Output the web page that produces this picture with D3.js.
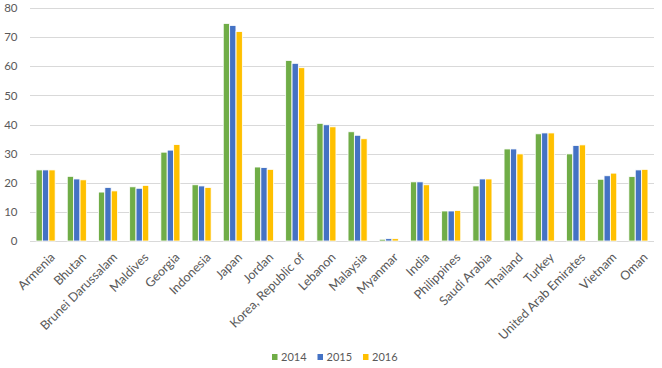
<!DOCTYPE html>
<html><head><meta charset="utf-8">
<script src="https://cdn.jsdelivr.net/npm/d3@7"></script>
<style>body{margin:0;background:#fff;}svg{display:block;font-family:Lato,sans-serif;}</style>
</head><body><svg id="c" width="662" height="368"></svg>
<script>
const categories = ["Armenia","Bhutan","Brunei Darussalam","Maldives","Georgia","Indonesia","Japan","Jordan","Korea, Republic of","Lebanon","Malaysia","Myanmar","India","Philippines","Saudi Arabia","Thailand","Turkey","United Arab Emirates","Vietnam","Oman"];
const seriesNames = ["2014","2015","2016"];
const v2014 = [24.4,22.2,16.8,18.6,30.5,19.3,74.7,25.4,62.0,40.4,37.5,0.6,20.3,10.3,18.9,31.6,36.8,29.9,21.2,22.1];
const v2015 = [24.4,21.3,18.4,18.1,31.2,18.9,74.0,25.2,61.0,39.9,36.3,0.8,20.3,10.3,21.3,31.6,37.1,32.8,22.4,24.4];
const v2016 = [24.4,21.0,17.2,19.1,33.1,18.4,71.9,24.6,59.5,39.2,35.1,0.8,19.3,10.5,21.3,29.9,37.1,33.0,23.3,24.6];
const yTicks = [0,10,20,30,40,50,60,70,80];
const colors = ["#70AD47","#4472C4","#FFC000"];
const seriesValues = [v2014, v2015, v2016];

const svg = d3.select("#c");
const m = {l:30, r:8, t:8, b:127};
const W = 662, H = 368;
const x = d3.scaleBand().domain(categories).range([m.l, W-m.r]).paddingInner(0.38).paddingOuter(0.19);
const xs = d3.scaleBand().domain(seriesNames).range([0, x.bandwidth()]).padding(0.02);
const y = d3.scaleLinear().domain([0,80]).range([H-m.b, m.t]);

// grid
svg.append("g").selectAll("line").data(yTicks).join("line")
  .attr("x1", m.l).attr("x2", W-m.r)
  .attr("y1", d=>Math.round(y(d))+0.5).attr("y2", d=>Math.round(y(d))+0.5)
  .attr("stroke","#d9d9d9").attr("stroke-width",1);

// y labels
const yAxis = d3.axisLeft(y).tickValues(yTicks).tickSize(0).tickPadding(0);
const ga = svg.append("g").attr("transform",`translate(${17.5},0)`).call(yAxis);
ga.select(".domain").remove();
ga.selectAll("text").attr("font-size",11.5).attr("fill","#595959").attr("font-family","Lato,sans-serif");

// bars
const groups = svg.append("g").selectAll("g").data(categories).join("g")
  .attr("transform", d=>`translate(${x(d)},0)`);
groups.selectAll("rect").data((d,i)=>seriesNames.map((s,j)=>({s, v: seriesValues[j][i], c: colors[j]})))
  .join("rect")
  .attr("x", d=>xs(d.s)).attr("width", xs.bandwidth())
  .attr("y", d=>y(d.v)).attr("height", d=>y(0)-y(d.v))
  .attr("fill", d=>d.c).attr("stroke","#fff").attr("stroke-width",0.8);

// x labels
svg.append("g").selectAll("text").data(categories).join("text")
  .attr("transform", d=>`translate(${x(d)+x.bandwidth()/2+7},${y(0)+14}) rotate(-45)`)
  .attr("text-anchor","end").attr("dy","0.35em")
  .attr("font-size",12.5).attr("fill","#595959")
  .text(d=>d);

// legend
const lg = svg.append("g").attr("transform","translate(272,357)");
const lx = [0, 45.5, 91];
seriesNames.forEach((s,i)=>{
  lg.append("rect").attr("x",lx[i]).attr("y",-3).attr("width",5.5).attr("height",6).attr("fill",colors[i]);
  lg.append("text").attr("x",lx[i]+9).attr("y",0).attr("dy","0.35em").attr("font-size",11).attr("fill","#595959").text(s);
});
</script></body></html>
